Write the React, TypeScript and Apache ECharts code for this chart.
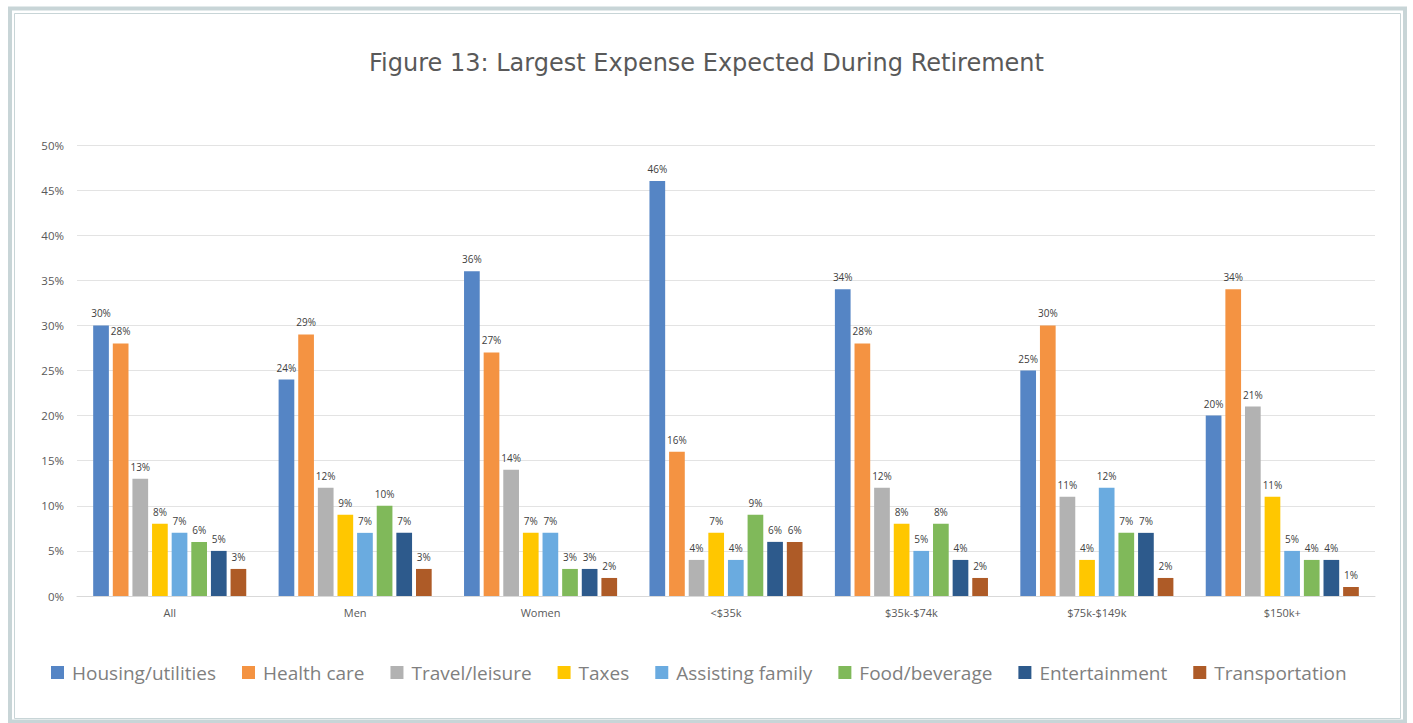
import React, { useEffect, useRef } from "react";
import * as echarts from "echarts";

const categories = ["All", "Men", "Women", "<$35k", "$35k-$74k", "$75k-$149k", "$150k+"];
const seriesNames = [
  "Housing/utilities",
  "Health care",
  "Travel/leisure",
  "Taxes",
  "Assisting family",
  "Food/beverage",
  "Entertainment",
  "Transportation",
];
const housing = [30, 24, 36, 46, 34, 25, 20];
const healthCare = [28, 29, 27, 16, 28, 30, 34];
const travel = [13, 12, 14, 4, 12, 11, 21];
const taxes = [8, 9, 7, 7, 8, 4, 11];
const assisting = [7, 7, 7, 4, 5, 12, 5];
const food = [6, 10, 3, 9, 8, 7, 4];
const entertainment = [5, 7, 3, 6, 4, 7, 4];
const transportation = [3, 3, 2, 6, 2, 2, 1];
const seriesValues = [housing, healthCare, travel, taxes, assisting, food, entertainment, transportation];
const colors = ["#5585c5", "#f49342", "#b2b2b2", "#ffc700", "#6aabe0", "#80b95a", "#2d5a8c", "#ae5b27"];
const yTicks = [0, 5, 10, 15, 20, 25, 30, 35, 40, 45, 50];

export default function App() {
  const ref = useRef<HTMLDivElement>(null);
  useEffect(() => {
    if (!ref.current) return;
    const chart = echarts.init(ref.current, null, { renderer: "svg" });
    const frameColor = "#c8d5d7";
    chart.setOption({
      animation: false,
      backgroundColor: "#ffffff",
      title: {
        text: "Figure 13: Largest Expense Expected During Retirement",
        left: "center",
        top: 46,
        textStyle: {
          fontFamily: "DejaVu Sans",
          fontSize: 24,
          fontWeight: "normal",
          color: "#595959",
        },
      },
      graphic: [
        {
          type: "rect",
          shape: { x: 10, y: 8.5, width: 1395, height: 713 },
          style: { fill: "none", stroke: frameColor, lineWidth: 4 },
          silent: true,
        },
        {
          type: "rect",
          shape: { x: 14.5, y: 13.5, width: 1386, height: 705 },
          style: { fill: "none", stroke: frameColor, lineWidth: 1 },
          silent: true,
        },
      ],
      legend: {
        bottom: 36,
        left: 46,
        itemWidth: 13,
        itemHeight: 13,
        itemGap: 26,
        icon: "rect",
        textStyle: {
          fontFamily: "Open Sans",
          fontSize: 19,
          color: "#7f7f7f",
          padding: [0, 0, 0, 3],
        },
        data: seriesNames,
      },
      grid: { left: 77, right: 38, top: 145, bottom: 127 },
      xAxis: {
        type: "category",
        data: categories,
        axisLine: { lineStyle: { color: "#d9d9d9", width: 1 } },
        axisTick: { show: false },
        axisLabel: { color: "#595959", fontSize: 11, fontFamily: "Open Sans", margin: 11 },
      },
      yAxis: {
        type: "value",
        min: yTicks[0],
        max: yTicks[yTicks.length - 1],
        interval: 5,
        axisLine: { show: false },
        axisTick: { show: false },
        axisLabel: { color: "#595959", fontSize: 11.5, fontFamily: "Open Sans", margin: 13, formatter: "{value}%" },
        splitLine: { lineStyle: { color: "#e3e3e3", width: 1 } },
      },
      series: seriesNames.map((name, i) => ({
        name,
        type: "bar",
        data: seriesValues[i],
        barWidth: 15.7,
        barGap: "25%",
        itemStyle: { color: colors[i] },
        label: {
          show: true,
          position: "top",
          distance: 7,
          formatter: "{c}%",
          fontSize: 10,
          fontFamily: "Open Sans",
          color: "#404040",
        },
      })),
    });
    return () => chart.dispose();
  }, []);
  return (
    <div
      ref={ref}
      style={{ position: "absolute", left: 0, top: 0, width: 1413, height: 723 }}
    />
  );
}
